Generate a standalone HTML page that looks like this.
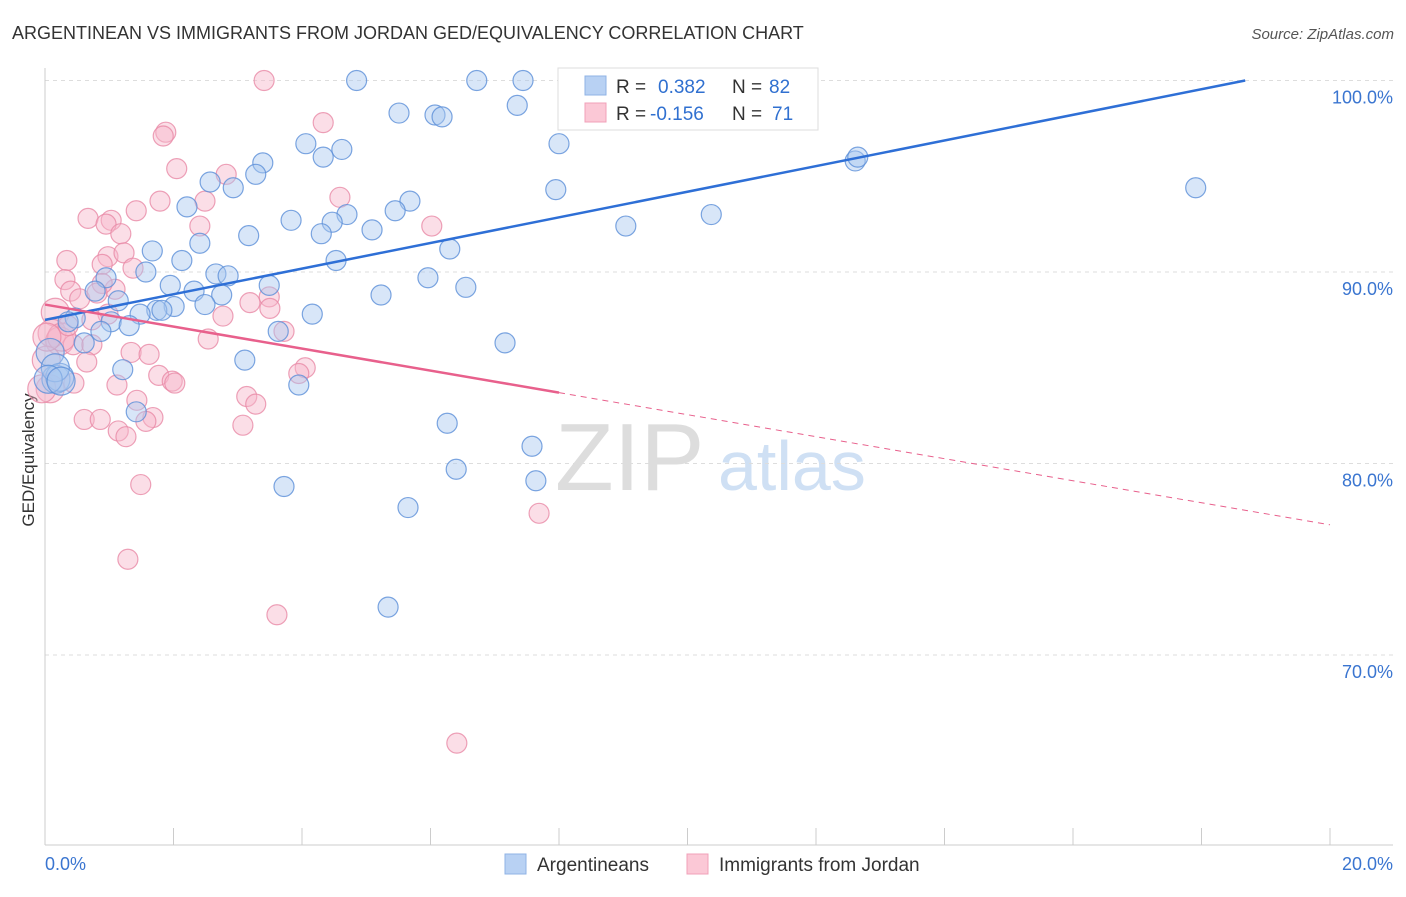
<!DOCTYPE html>
<html><head><meta charset="utf-8"><style>
body{margin:0;background:#fff;font-family:"Liberation Sans",sans-serif;}
svg text{font-family:"Liberation Sans",sans-serif;}
</style></head><body>
<svg id="chart" width="1406" height="892" xmlns="http://www.w3.org/2000/svg">
<text x="12" y="39" font-size="18" fill="#333">ARGENTINEAN VS IMMIGRANTS FROM JORDAN GED/EQUIVALENCY CORRELATION CHART</text>
<text x="1394" y="39" font-size="15" fill="#555" font-style="italic" text-anchor="end">Source: ZipAtlas.com</text>
<text x="34" y="460" font-size="17" fill="#333" text-anchor="middle" transform="rotate(-90 34 460)">GED/Equivalency</text>
<text x="555" y="490" font-size="96" fill="#ddd" font-family="Liberation Serif">ZIP</text>
<text x="718" y="490" font-size="70" fill="#cfe0f4">atlas</text>
<g id="grid"></g><g id="axes"></g><g id="pts"></g><g id="lines"></g>
<g>
<rect x="558" y="68" width="260" height="62" fill="#fff" stroke="#ddd"/>
<rect x="585" y="76" width="21" height="19" fill="#b8d1f3" stroke="#8fb3e6"/>
<rect x="585" y="103" width="21" height="19" fill="#fbc8d6" stroke="#f0a0b8"/>
<text x="616" y="93" font-size="19" fill="#333">R = <tspan fill="#3070d0" x="658">0.382</tspan><tspan fill="#333" x="732">N =</tspan><tspan fill="#3070d0" x="769">82</tspan></text>
<text x="616" y="120" font-size="19" fill="#333">R = <tspan fill="#3070d0" x="650">-0.156</tspan><tspan fill="#333" x="732">N =</tspan><tspan fill="#3070d0" x="772">71</tspan></text>
</g>
<g>
<rect x="505" y="854" width="21" height="20" fill="#b8d1f3" stroke="#8fb3e6"/>
<text x="537" y="871" font-size="19" fill="#333">Argentineans</text>
<rect x="687" y="854" width="21" height="20" fill="#fbc8d6" stroke="#f0a0b8"/>
<text x="719" y="871" font-size="19" fill="#333">Immigrants from Jordan</text>
</g>
</svg>
<script>
const blueX=[4.85,6.72,7.44,8.2,8.95,9.49,5.51,6.07,6.18,7.35,4.06,4.62,4.33,8.0,3.39,3.28,2.57,2.93,12.61,12.65,17.91,7.95,5.68,2.21,5.45,4.7,3.83,4.47,4.3,5.09,9.04,10.37,3.17,2.41,1.67,6.3,2.13,4.53,1.57,2.66,2.85,0.95,5.96,3.49,1.95,6.55,2.32,5.23,0.78,2.75,1.14,2.49,2.01,1.74,1.82,4.16,1.48,0.47,0.36,1.03,1.31,0.87,3.63,0.61,7.16,3.11,0.08,1.21,0.17,0.23,3.95,1.42,6.26,7.58,6.4,7.64,3.72,5.65,5.34,0.16,0.05,0.25];
const blueY=[100,100,100,100,100,100,98.3,98.2,98.1,98.7,96.7,96.4,96,96.7,95.7,95.1,94.7,94.4,95.8,96,94.4,94.3,93.7,93.4,93.2,93,92.7,92.6,92,92.2,92.4,93,91.9,91.5,91.1,91.2,90.6,90.6,90,89.9,89.8,89.7,89.7,89.3,89.3,89.2,89,88.8,89,88.8,88.5,88.3,88.2,88,88,87.8,87.8,87.6,87.4,87.4,87.2,86.9,86.9,86.3,86.3,85.4,85.8,84.9,84.4,84.5,84.1,82.7,82.1,80.9,79.7,79.1,78.8,77.7,72.5,85,84.4,84.3];
const pinkX=[3.41,4.33,1.88,1.84,2.05,2.82,4.59,1.79,2.49,1.42,0.67,1.03,0.95,2.41,6.02,1.18,0.34,0.98,1.23,0.89,1.37,0.31,0.4,0.54,1.09,0.16,0.89,0.81,3.19,3.49,3.5,2.77,3.72,0.11,0.23,0.44,0.73,2.54,1.34,1.62,0.65,4.05,3.95,0.02,1.77,1.98,2.02,1.12,0.45,3.14,3.28,0.08,1.43,1.68,1.57,0.61,0.86,3.08,1.14,1.26,1.49,7.69,1.29,3.61,6.41,-0.05,0.26,0.36,0.03,0.98,0.73];
const pinkY=[100,97.8,97.3,97.1,95.4,95.1,93.9,93.7,93.7,93.2,92.8,92.7,92.5,92.4,92.4,92,90.6,90.8,91,90.4,90.2,89.6,89,88.6,89.1,87.9,89.4,88.9,88.4,88.7,88.1,87.7,86.9,86.8,86.4,86.2,86.2,86.5,85.8,85.7,85.3,85,84.7,85.4,84.6,84.3,84.2,84.1,84.2,83.5,83.1,83.9,83.3,82.4,82.2,82.3,82.3,82,81.7,81.4,78.9,77.4,75,72.1,65.4,83.9,86.6,87.2,86.6,87.8,87.5];
const yTicks=[100,90,80,70];
const xTickLabels=["0.0%","20.0%"];
const blueLine=[[0,87.5],[18.68,100]];
const pinkLine=[[0,88.3],[8.0,83.7],[20,76.8]];
const NS="http://www.w3.org/2000/svg";
const sx=v=>45+v*64.25, sy=v=>80.5+(100-v)*19.15;
function mk(parent,tag,attrs){const e=document.createElementNS(NS,tag);for(const k in attrs)e.setAttribute(k,attrs[k]);document.getElementById(parent).appendChild(e);return e;}
yTicks.forEach(t=>{
 const g=mk('grid','line',{x1:45,x2:1393,y1:sy(t),y2:sy(t),stroke:'#ddd','stroke-dasharray':'4,4'});
 
 
 const l=mk('grid','text',{x:1393,y:sy(t)+23,'font-size':18,fill:'#3a75d0','text-anchor':'end'});
 l.textContent=t.toFixed(1)+'%';
 
 
});
const ax=mk('axes','line',{x1:45,x2:45,y1:68,y2:845,stroke:'#ccc'});


const bx=mk('axes','line',{x1:45,x2:1393,y1:845,y2:845,stroke:'#ccc'});


for(let i=0;i<=10;i++){const tk=mk('axes','line',{x1:sx(i*2),x2:sx(i*2),y1:828,y2:845,stroke:'#ccc'});
 
 }
[[0,'start',45],[20,'end',1393]].forEach((d,i)=>{const t=mk('axes','text',{x:d[2],y:870,'font-size':18,fill:'#3a75d0','text-anchor':d[1]});t.textContent=xTickLabels[i];
 
 });
function pts(X,Y,fill,stroke,name){X.forEach((x,i)=>{const r=(x<0.3)?14:10;
 const c=mk('pts','circle',{cx:sx(x),cy:sy(Y[i]),r:r,fill:fill,'fill-opacity':0.45,stroke:stroke,'stroke-width':1.2,'stroke-opacity':0.8});
 
 });}
pts(pinkX,pinkY,'#f7b6c9','#e88aa6','point-jordan');
pts(blueX,blueY,'#a9c8f0','#5b8fd8','point-argentinean');
const bl=mk('lines','line',{x1:sx(blueLine[0][0]),y1:sy(blueLine[0][1]),x2:sx(blueLine[1][0]),y2:sy(blueLine[1][1]),stroke:'#2e6fd6','stroke-width':2.5});


const pl=mk('lines','line',{x1:sx(pinkLine[0][0]),y1:sy(pinkLine[0][1]),x2:sx(pinkLine[1][0]),y2:sy(pinkLine[1][1]),stroke:'#e8608c','stroke-width':2.5});


const pd=mk('lines','line',{x1:sx(pinkLine[1][0]),y1:sy(pinkLine[1][1]),x2:sx(pinkLine[2][0]),y2:sy(pinkLine[2][1]),stroke:'#e8608c','stroke-width':1,'stroke-dasharray':'6,5'});


</script>
</body></html>
